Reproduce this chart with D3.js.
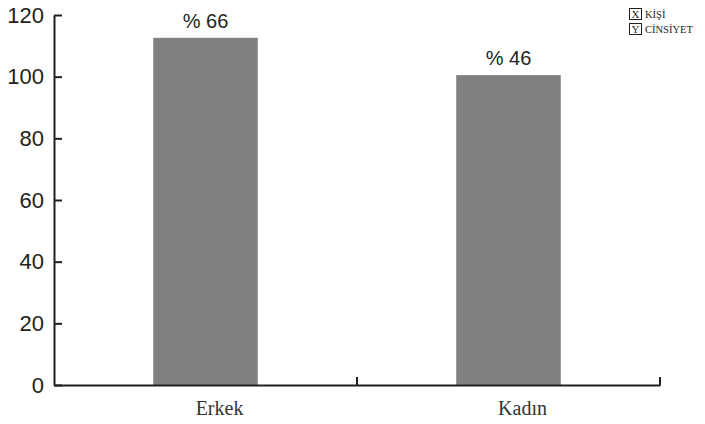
<!DOCTYPE html>
<html>
<head>
<meta charset="utf-8">
<script src="https://cdn.jsdelivr.net/npm/d3@7"></script>
<style>
  html, body { margin: 0; padding: 0; background: #fff; }
  svg { display: block; }
</style>
</head>
<body>
<div id="chart"></div>
<script>
const categories = ["Erkek", "Kadın"];
const values = [112.6, 100.5];
const barLabels = ["% 66", "% 46"];
const yTicks = [0, 20, 40, 60, 80, 100, 120];
const legendKeys = ["X", "Y"];
const legendLabels = ["KİŞİ", "CİNSİYET"];

const W = 705, H = 424;
const axisColor = "#231f20";
const barColor = "#808083";

const svg = d3.select("#chart").append("svg").attr("width", W).attr("height", H);

const x = d3.scaleBand().domain(categories).range([54, 660]).padding(0);
const y = d3.scaleLinear().domain([0, 120]).range([385, 15]);
const barW = x.bandwidth() * 0.345;

// bars
svg.selectAll("rect.bar").data(categories).enter().append("rect")
  .attr("class", "bar")
  .attr("x", d => x(d) + x.bandwidth() / 2 - barW / 2)
  .attr("width", barW)
  .attr("y", (d, i) => y(values[i]))
  .attr("height", (d, i) => y(0) - y(values[i]))
  .attr("fill", barColor);

// bar value labels
svg.selectAll("text.vlab").data(categories).enter().append("text")
  .attr("class", "vlab")
  .attr("x", d => x(d) + x.bandwidth() / 2)
  .attr("y", (d, i) => y(values[i]) - 10)
  .attr("text-anchor", "middle")
  .attr("font-family", "Liberation Sans, Arial, sans-serif")
  .attr("font-size", 20)
  .attr("fill", "#231f20")
  .text((d, i) => barLabels[i]);

// y axis
const yAxis = d3.axisLeft(y).tickValues(yTicks).tickSize(-8).tickSizeOuter(0).tickPadding(10);
const gy = svg.append("g").attr("transform", "translate(54,0)").call(yAxis);
gy.select(".domain").attr("stroke", axisColor).attr("stroke-width", 2);
gy.selectAll(".tick line").attr("stroke", axisColor).attr("stroke-width", 2);
gy.selectAll(".tick text")
  .attr("font-family", "Liberation Sans, Arial, sans-serif")
  .attr("font-size", 22)
  .attr("fill", "#231f20");

// x axis
const xAxis = d3.axisBottom(x).tickSize(0).tickSizeOuter(0).tickPadding(16);
const gx = svg.append("g").attr("transform", "translate(0,385)").call(xAxis);
gx.select(".domain").attr("stroke", axisColor).attr("stroke-width", 2);
gx.selectAll(".tick text")
  .attr("font-family", "Liberation Serif, Times New Roman, serif")
  .attr("font-size", 20)
  .attr("dx", 14)
  .attr("fill", "#333");

// x boundary ticks (pointing up)
svg.selectAll("line.xb").data(categories).enter().append("line")
  .attr("class", "xb")
  .attr("x1", d => x(d) + x.bandwidth())
  .attr("x2", d => x(d) + x.bandwidth())
  .attr("y1", y(0))
  .attr("y2", y(0) - 8)
  .attr("stroke", axisColor)
  .attr("stroke-width", 2);

// legend
const lg = svg.append("g").attr("transform", "translate(629,8)");
legendKeys.forEach((k, i) => {
  const g = lg.append("g").attr("transform", `translate(0,${i * 15})`);
  g.append("rect").attr("x", 0.5).attr("y", 0.5).attr("width", 12).attr("height", 11)
    .attr("fill", "none").attr("stroke", "#231f20").attr("stroke-width", 1);
  g.append("text").attr("x", 6.5).attr("y", 10)
    .attr("text-anchor", "middle")
    .attr("font-family", "Liberation Serif, Times New Roman, serif")
    .attr("font-size", 11).attr("fill", "#231f20").text(k);
  g.append("text").attr("x", 16).attr("y", 10)
    .attr("font-family", "Liberation Serif, Times New Roman, serif")
    .attr("font-size", 10.5).attr("fill", "#231f20").text(legendLabels[i]);
});
</script>
</body>
</html>
